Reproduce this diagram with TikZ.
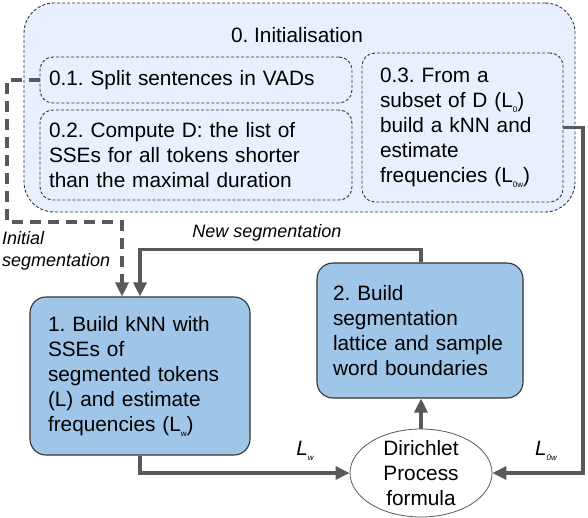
\documentclass[tikz,border=0pt]{standalone}
\usepackage{fontspec}
\setmainfont{Liberation Sans}
\usetikzlibrary{arrows.meta,shapes.geometric,calc}
\definecolor{outerfill}{HTML}{E8F0FE}
\definecolor{boxfill}{HTML}{9FC5E8}
\definecolor{conn}{HTML}{595959}
\definecolor{edgedark}{HTML}{333333}
\newcommand\subs[1]{\raisebox{-0.45ex}{\fontsize{8}{8}\selectfont #1}}
\frenchspacing
\begin{document}
\frenchspacing
\begin{tikzpicture}[x=1pt,y=-1pt,
  font=\fontsize{20.8}{25}\selectfont,
  outerbox/.style={draw=edgedark, dash pattern=on 3pt off 2pt, line width=0.9pt, fill=outerfill, rounded corners=30pt, inner sep=0pt},
  subbox/.style={draw=edgedark, dash pattern=on 3pt off 2pt, line width=0.9pt, fill=outerfill, rounded corners=13pt, inner ysep=0pt, align=left},
  stepbox/.style={draw=edgedark, line width=1.1pt, fill=boxfill, rounded corners=16pt, inner ysep=0pt, align=left},
  conn/.style={draw=conn, line width=3.2pt, -{Triangle[length=14pt,width=13pt]}},
  dashconn/.style={draw=conn, line width=3.2pt, dash pattern=on 11pt off 7pt, -{Triangle[length=14pt,width=13pt]}},
  lbl/.style={font=\fontsize{18}{22}\selectfont\itshape, inner sep=0pt, align=left}
]
\useasboundingbox (0,0) rectangle (588,518);

% Initialisation
\node[outerbox, minimum width=551pt, minimum height=209pt] (init) at (299.5,107.5) {};
\node[inner sep=0pt] (title) at (297,35) {0. Initialisation};
\node[subbox, inner xsep=9pt, text width=294pt, minimum height=46pt] (b01) at (196,80) {0.1. Split sentences in VADs};
\node[subbox, inner xsep=9pt, text width=294pt, minimum height=90pt] (b02) at (196,155) {0.2. Compute D: the list of\\SSEs for all tokens shorter\\than the maximal duration};
\node[subbox, inner xsep=18pt, text width=165pt, minimum height=149pt] (b03) at (462.5,127.5) {0.3. From a\\subset of D (L\subs{0})\\build a kNN and\\estimate\\frequencies (L\subs{0w})};

% step boxes
\node[stepbox, inner xsep=18pt, text width=184pt, minimum height=158pt] (b1) at (140,376) {1. Build kNN with\\SSEs of\\segmented tokens\\(L) and estimate\\frequencies (L\subs{w})};
\node[stepbox, inner xsep=16pt, text width=174pt, minimum height=135pt] (b2) at (420,330.5) {2. Build\\segmentation\\lattice and sample\\word boundaries};

% Dirichlet process
\node[ellipse, draw=conn, line width=0.8pt, fill=white, minimum width=142pt, minimum height=88pt, inner sep=0pt] (dp) at (421,473) {};
\node[align=center, inner sep=0pt] (dptext) at (dp.center) {Dirichlet\\Process\\formula};

% coordinates
\coordinate (dA) at (7,80);
\coordinate (dB) at (7,222);
\coordinate (dC) at (122,222);
\coordinate (rA) at (583,127.5);

% connectors
\draw[dashconn] (b01.west) -- (dA) -- (dB) -- (dC) -- (dC |- b1.north);
\draw[conn] (b2.north -| dp.north) -- ++(0,-13) -| (b1.north);
\draw[conn] (b1.south) |- (dp.west);
\draw[conn] (b03.east) -- (rA) |- (dp.east);
\draw[conn] (dp.north) -- (b2.south -| dp.north);

% labels
\node[lbl, anchor=west] (initlbl) at (2,251) {Initial\\segmentation};
\node[lbl] (newseg) at (267,233) {New segmentation};
\node[font=\fontsize{20.8}{25}\selectfont\itshape, inner sep=0pt] (lw) at (305,451) {L\subs{w}};
\node[font=\fontsize{20.8}{25}\selectfont\itshape, inner sep=0pt] (l0w) at (546,451) {L\subs{0w}};
\end{tikzpicture}
\end{document}
